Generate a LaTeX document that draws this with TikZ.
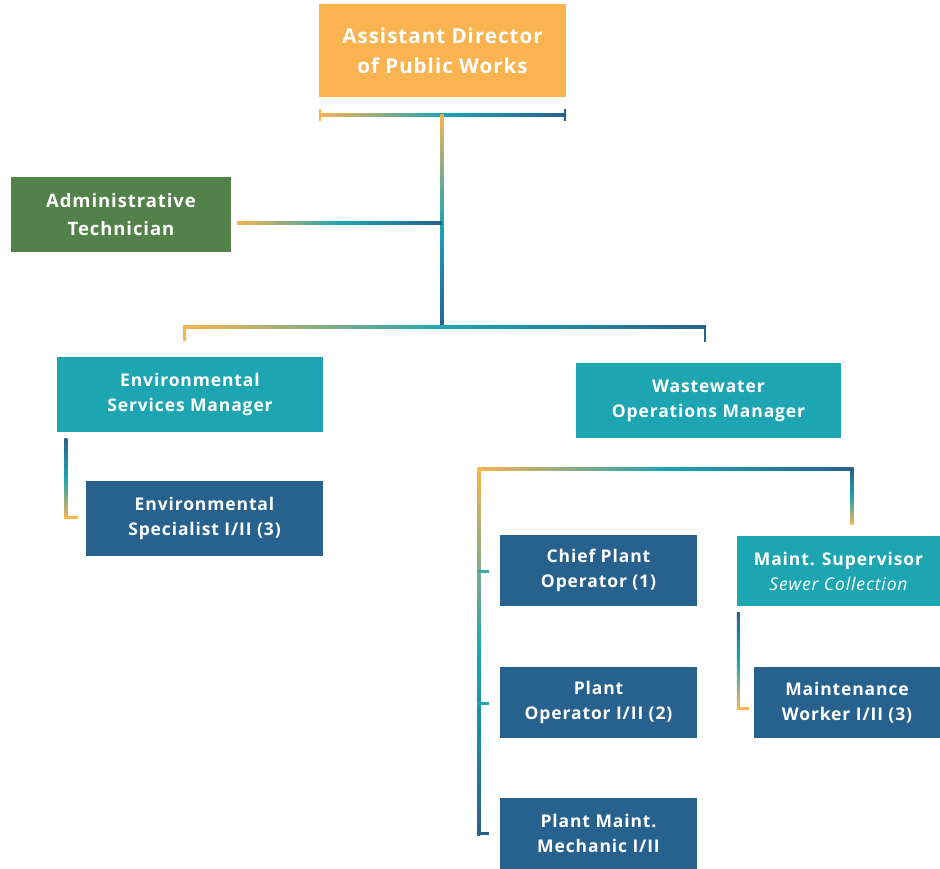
\documentclass[tikz,border=0pt]{standalone}
\usepackage{fontspec}
\setmainfont{Open Sans}[LetterSpace=5]
\usetikzlibrary{positioning,calc}
\definecolor{pwOrange}{HTML}{F9B351}
\definecolor{pwGreen}{HTML}{53814A}
\definecolor{pwTeal}{HTML}{1DA6B2}
\definecolor{pwBlue}{HTML}{27628F}
\begin{document}
\begin{tikzpicture}[x=1pt,y=-1pt,
   box/.style={fill=#1,text=white,font=\bfseries\fontsize{17.5}{25}\selectfont,
     align=center,inner sep=0pt,minimum height=75pt},
   box/.default=pwBlue,
   hbar/.style={left color=pwOrange,right color=pwBlue,middle color=pwTeal},
   vbar/.style={top color=pwOrange,bottom color=pwBlue,middle color=pwTeal},
   vbarup/.style={top color=pwBlue,bottom color=pwOrange,middle color=pwTeal}]
 \useasboundingbox (0,0) rectangle (940,869);
 % boxes
 \node[box=pwOrange,minimum width=247pt,minimum height=93pt,
   font=\bfseries\fontsize{20.5}{30}\selectfont] (adpw) at (442.5,50.5)
   {Assistant Director\\of Public Works};
 \node[box=pwGreen,minimum width=220pt,font=\bfseries\fontsize{18.5}{28}\selectfont]
   (admin) at (121,214.5) {Administrative\\Technician};
 \node[box=pwTeal,minimum width=266pt] (esm) at (190,394.5) {Environmental\\Services Manager};
 \node[box=pwTeal,minimum width=265pt] (wom) at (708.5,400.5) {Wastewater\\Operations Manager};
 \node[box,minimum width=237pt] (espec) at (204.5,518.5) {Environmental\\Specialist I/II (3)};
 \node[box,minimum width=197pt,minimum height=71pt] (cpo) at (598.5,570.5) {Chief Plant\\Operator (1)};
 \node[box=pwTeal,minimum width=203pt,minimum height=70pt] (msup) at (838.5,571)
   {Maint. Supervisor\\{\mdseries\itshape Sewer Collection}};
 \node[box,minimum width=197pt,minimum height=71pt] (po) at (598.5,702.5) {Plant\\Operator I/II (2)};
 \node[box,minimum width=186pt,minimum height=71pt] (mw) at (847,702.5) {Maintenance\\Worker I/II (3)};
 \node[box,minimum width=197pt,minimum height=71pt] (pmm) at (598.5,833.5) {Plant Maint.\\Mechanic I/II};
 % bus levels
 \coordinate (topbus) at (0,115);
 \coordinate (adminbus) at (0,223);
 \coordinate (midbus) at (0,327);
 \coordinate (wwbus) at (0,469);
 % top bracket and trunk
 \shade[hbar] ($(adpw.west |- topbus)+(0,-1.5)$) rectangle ($(adpw.east |- topbus)+(0,1.5)$);
 \fill[pwOrange] ($(adpw.west |- topbus)+(0,-6)$) rectangle ++(2,12);
 \fill[pwBlue] ($(adpw.east |- topbus)+(-2,-6)$) rectangle ++(2,12);
 \shade[vbar] ($(adpw.south |- topbus)+(-2,0)$) rectangle ($(adpw.south |- midbus)+(1,1.5)$);
 \shade[hbar] ($(admin.east |- adminbus)+(6,-1.5)$) rectangle ($(adpw.south |- adminbus)+(-1,1.5)$);
 % middle bus
 \shade[hbar] ($(esm.north |- midbus)+(-7,-1.5)$) rectangle ($(wom.north |- midbus)+(-2.5,1.5)$);
 \fill[pwOrange] ($(esm.north |- midbus)+(-7,-1.5)$) rectangle ++(2.5,15);
 \fill[pwBlue] ($(wom.north |- midbus)+(-5,-1.5)$) rectangle ++(2.5,16);
 % environmental specialist
 \shade[vbarup] ($(esm.south west)+(7.5,6)$) rectangle ($(esm.west |- espec)+(10.5,0)$);
 \fill[pwOrange] ($(esm.west |- espec)+(7.5,-3)$) rectangle ($(espec.west)+(-8,0)$);
 % wastewater bracket
 \shade[hbar] ($(cpo.west |- wwbus)+(-22.5,-1.5)$) rectangle ($(msup.north |- wwbus)+(15,1.5)$);
 \shade[vbar] ($(cpo.west |- wwbus)+(-22.5,0)$) rectangle ($(pmm.west)+(-19.5,1.5)$);
 \shade[vbarup] ($(msup.north |- wwbus)+(12,0)$) rectangle ($(msup.north)+(15,-11)$);
 \fill[pwTeal!85!pwOrange] ($(cpo.west)+(-22.5,-1)$) rectangle ++(12,3);
 \fill[pwTeal] ($(po.west)+(-22.5,-1)$) rectangle ++(12,3);
 \fill[pwBlue] ($(pmm.west)+(-22.5,-1.5)$) rectangle ++(12,3);
 % maintenance worker
 \shade[vbarup] ($(msup.south west)+(0,6)$) rectangle ($(msup.west |- mw)+(3,7)$);
 \fill[pwOrange] ($(msup.west |- mw)+(0,4)$) rectangle ($(mw.west)+(-5,7)$);
\end{tikzpicture}
\end{document}
